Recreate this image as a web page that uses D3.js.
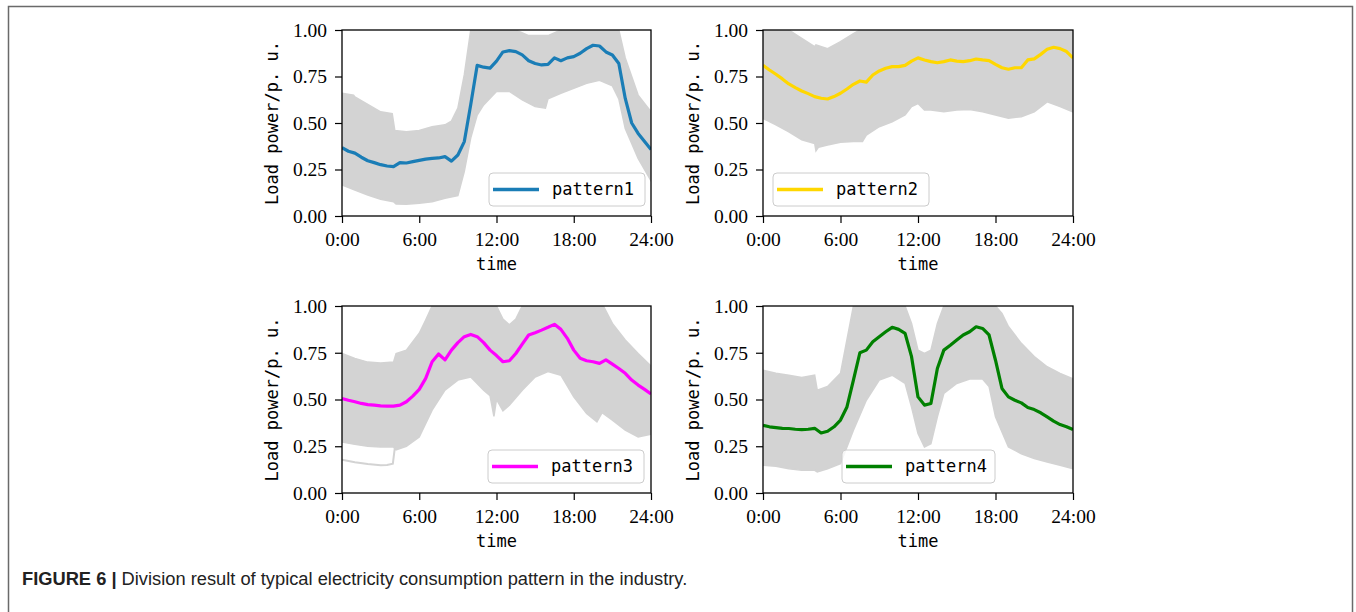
<!DOCTYPE html>
<meta charset="utf-8">
<html>
<script src="https://d3js.org/d3.v7.min.js"></script>
<style>
  body { margin: 0; background: #fff; }
</style>
<body>
<div id="my_dataviz"></div>
<script>

// half-hour steps used by the typical pattern curves
const hours = [0,0.5,1,1.5,2,2.5,3,3.5,4,4.5,5,5.5,6,6.5,7,7.5,8,8.5,9,9.5,10,10.5,11,11.5,12,
               12.5,13,13.5,14,14.5,15,15.5,16,16.5,17,17.5,18,18.5,19,19.5,20,20.5,21,21.5,22,22.5,23,23.5,24];

// typical pattern of each cluster (p.u.)
const pattern1 = [0.367,0.348,0.338,0.316,0.297,0.287,0.276,0.269,0.265,0.287,0.285,0.292,0.299,0.306,0.31,0.312,0.319,0.295,0.328,0.40,
                  0.60,0.81,0.80,0.795,0.833,0.882,0.889,0.884,0.866,0.835,0.82,0.812,0.815,0.85,0.835,0.85,0.857,0.875,0.90,0.918,
                  0.914,0.882,0.866,0.82,0.632,0.50,0.444,0.40,0.357];
const pattern2 = [0.81,0.785,0.762,0.737,0.71,0.69,0.672,0.658,0.642,0.633,0.629,0.642,0.66,0.683,0.708,0.726,0.72,0.758,0.78,0.794,
                  0.803,0.803,0.81,0.833,0.85,0.839,0.83,0.824,0.83,0.839,0.833,0.83,0.835,0.844,0.839,0.835,0.815,0.797,0.789,0.797,
                  0.797,0.839,0.845,0.869,0.896,0.907,0.90,0.884,0.85];
const pattern3 = [0.505,0.496,0.488,0.479,0.473,0.47,0.466,0.465,0.465,0.47,0.488,0.518,0.554,0.613,0.702,0.743,0.712,0.764,0.804,0.836,
                  0.848,0.836,0.804,0.764,0.735,0.702,0.707,0.746,0.796,0.845,0.857,0.871,0.886,0.902,0.875,0.827,0.764,0.72,0.707,0.702,
                  0.693,0.712,0.689,0.666,0.64,0.604,0.577,0.554,0.529];
const pattern4 = [0.362,0.354,0.35,0.346,0.345,0.341,0.339,0.341,0.346,0.321,0.33,0.354,0.39,0.46,0.604,0.75,0.764,0.809,0.836,0.862,
                  0.886,0.875,0.854,0.729,0.514,0.47,0.479,0.666,0.764,0.79,0.818,0.845,0.862,0.889,0.88,0.845,0.71,0.559,0.514,0.496,
                  0.482,0.457,0.446,0.429,0.407,0.384,0.366,0.354,0.339];

// envelope of the grey member curves in each cluster (upper / lower edge)
const p1UpperT = [0,0.9,1,2,3,3.9,4.1,5,6,7,8,8.5,9,9.5,10,13.5,14.5,16,17,21.5,22,23,24];
const p1Upper  = [0.66,0.65,0.64,0.60,0.56,0.55,0.46,0.453,0.46,0.48,0.49,0.51,0.58,0.76,1.0,1.0,0.97,0.97,1.0,1.0,0.85,0.65,0.56];
const p1LowerT = [0,1,2,3,4,4.2,5,6,7,8,9,9.5,10,10.5,11,12,13,14,15,15.8,16,17,18,19,20,21,21.5,22,23,24];
const p1Lower  = [0.167,0.14,0.113,0.09,0.077,0.065,0.063,0.068,0.077,0.095,0.11,0.24,0.42,0.543,0.597,0.67,0.67,0.624,0.588,0.58,
                  0.63,0.66,0.686,0.713,0.73,0.70,0.63,0.47,0.31,0.19];

const p2UpperT = [0,2,3,4,4.1,5,6,7,7.5,24];
const p2Upper  = [1.0,1.0,0.955,0.91,0.92,0.90,0.937,0.98,1.0,1.0];
const p2LowerT = [0,1,2,3,4,4.1,4.3,5,6,7,7.7,8,9,10,11,11.5,12,12.5,13,14,15,16,17,18,19,20,21,22,23,24];
const p2Lower  = [0.525,0.49,0.453,0.41,0.39,0.35,0.37,0.382,0.396,0.40,0.40,0.435,0.48,0.507,0.543,0.588,0.605,0.57,0.57,0.56,
                  0.57,0.573,0.56,0.543,0.525,0.534,0.56,0.614,0.588,0.56];

const p3UpperT = [0,1,2,3,4,4.2,5,6,6.5,7,12,12.5,13,13.5,14,20.3,21,22,23,24];
const p3Upper  = [0.746,0.72,0.70,0.695,0.70,0.746,0.764,0.854,0.925,1.0,1.0,0.93,0.90,0.93,1.0,1.0,0.907,0.818,0.746,0.679];
const p3LowerT = [0,1,2,3,4,4.2,5,6,7,8,9,10,11,11.5,11.8,12,12.5,13,14,15,16,17,18,19,19.8,20.2,21,22,23,24];
const p3Lower  = [0.273,0.26,0.25,0.246,0.246,0.23,0.25,0.30,0.443,0.55,0.604,0.62,0.55,0.52,0.41,0.50,0.44,0.47,0.55,0.62,
                  0.65,0.63,0.514,0.425,0.38,0.43,0.39,0.336,0.30,0.314];
// one low member curve of cluster 3 that sits apart from the bundle at night
const p3OutlierT = [0,1,2,3,3.5,3.95,4.1];
const p3Outlier  = [0.178,0.165,0.155,0.148,0.15,0.157,0.24];

const p4UpperT = [0,1,2,3,4,4.2,5,6,6.5,7,11,11.5,12,12.5,13,13.5,14,18,18.5,19,20,21,22,23,24];
const p4Upper  = [0.657,0.64,0.63,0.618,0.63,0.55,0.57,0.64,0.82,1.0,1.0,0.907,0.764,0.746,0.764,0.907,1.0,1.0,0.96,0.89,0.80,0.73,0.675,0.64,0.61];
const p4LowerT = [0,1,2,3,4,4.2,5,6,7,8,9,10,11,11.5,12,12.5,13,13.5,14,15,16,17,17.5,18,19,20,21,22,23,24];
const p4Lower  = [0.148,0.143,0.13,0.121,0.121,0.113,0.13,0.157,0.336,0.496,0.604,0.63,0.586,0.46,0.318,0.246,0.264,0.407,0.532,0.586,
                  0.61,0.61,0.57,0.407,0.246,0.21,0.184,0.166,0.148,0.13];

// axis ticks
const xTickHours  = [0, 6, 12, 18, 24];
const xTickLabels = ["0:00", "6:00", "12:00", "18:00", "24:00"];
const yTicks = [0, 0.25, 0.5, 0.75, 1.0];

const serif = "'Liberation Serif', 'Times New Roman', serif";
const mono  = "'DejaVu Sans Mono', monospace";

const svg = d3.select("#my_dataviz")
  .append("svg")
    .attr("width", 1356)
    .attr("height", 612);

// thin frame round the whole figure
svg.append("rect")
  .attr("x", 8.5).attr("y", 6.5)
  .attr("width", 1344).attr("height", 700)
  .attr("fill", "none")
  .attr("stroke", "#6a6a6a")
  .attr("stroke-width", 1.5);

// layout of the four subplots; legend offset is from the plot's left / bottom
const panels = [
  {id: 1, name: "pattern1", color: "#1a7db6", values: pattern1, upT: p1UpperT, up: p1Upper, loT: p1LowerT, lo: p1Lower,
   left: 342, top: 30, w: 309, h: 186, legX: 147, legW: 156},
  {id: 2, name: "pattern2", color: "#ffd700", values: pattern2, upT: p2UpperT, up: p2Upper, loT: p2LowerT, lo: p2Lower,
   left: 763, top: 30, w: 310, h: 186, legX: 10, legW: 156},
  {id: 3, name: "pattern3", color: "#ff00ff", values: pattern3, upT: p3UpperT, up: p3Upper, loT: p3LowerT, lo: p3Lower,
   left: 342, top: 306, w: 309, h: 187, legX: 146, legW: 156, extraT: p3OutlierT, extra: p3Outlier},
  {id: 4, name: "pattern4", color: "#008000", values: pattern4, upT: p4UpperT, up: p4Upper, loT: p4LowerT, lo: p4Lower,
   left: 763, top: 306, w: 310, h: 187, legX: 79, legW: 153}
];

panels.forEach(function(p) {
  const x = d3.scaleLinear().domain([0, 24]).range([0, p.w]);
  const y = d3.scaleLinear().domain([0, 1]).range([p.h, 0]);

  const g = svg.append("g").attr("transform", `translate(${p.left},${p.top})`);

  svg.append("clipPath").attr("id", "clip" + p.id)
    .append("rect").attr("width", p.w).attr("height", p.h);

  const plot = g.append("g").attr("clip-path", `url(#clip${p.id})`);

  // grey bundle of member curves: the band between upper and lower edges
  const upPts = p.upT.map((t, i) => [t, p.up[i]]);
  const loPts = p.loT.map((t, i) => [t, p.lo[i]]).reverse();
  const line = d3.line().x(d => x(d[0])).y(d => y(d[1]));
  plot.append("path")
    .attr("d", line(upPts.concat(loPts)) + "Z")
    .attr("fill", "#d3d3d3")
    .attr("stroke", "#d3d3d3")
    .attr("stroke-width", 1.5);

  if (p.extra) {
    plot.append("path")
      .datum(p.extraT.map((t, i) => [t, p.extra[i]]))
      .attr("d", line)
      .attr("fill", "none")
      .attr("stroke", "#d3d3d3")
      .attr("stroke-width", 2);
  }

  // typical pattern
  plot.append("path")
    .datum(hours.map((t, i) => [t, p.values[i]]))
    .attr("d", line)
    .attr("fill", "none")
    .attr("stroke", p.color)
    .attr("stroke-width", 3.2)
    .attr("stroke-linejoin", "round");

  // axes
  const xAxis = g.append("g")
    .attr("transform", `translate(0,${p.h})`)
    .call(d3.axisBottom(x).tickValues(xTickHours).tickFormat((d, i) => xTickLabels[i])
      .tickSize(7).tickPadding(9).tickSizeOuter(0));
  const yAxis = g.append("g")
    .call(d3.axisLeft(y).tickValues(yTicks).tickFormat(d3.format(".2f"))
      .tickSize(7).tickPadding(8).tickSizeOuter(0));

  [xAxis, yAxis].forEach(function(a) {
    a.select(".domain").remove();
    a.selectAll("line").attr("stroke", "#000").attr("stroke-width", 1.2);
    a.selectAll("text")
      .attr("fill", "#000")
      .style("font-family", serif)
      .style("font-size", "19.5px");
  });

  // spines on all four sides
  g.append("rect")
    .attr("width", p.w).attr("height", p.h)
    .attr("fill", "none")
    .attr("stroke", "#000")
    .attr("stroke-width", 1.3);

  // axis titles
  g.append("text")
    .attr("x", p.w / 2).attr("y", p.h + 54)
    .attr("text-anchor", "middle")
    .style("font-family", mono).style("font-size", "17px")
    .text("time");
  g.append("text")
    .attr("transform", `translate(-64,${p.h / 2}) rotate(-90)`)
    .attr("text-anchor", "middle")
    .style("font-family", mono).style("font-size", "17px")
    .text("Load power/p. u.");

  // legend
  const lg = g.append("g").attr("transform", `translate(${p.legX},${p.h - 10 - 33})`);
  lg.append("rect")
    .attr("width", p.legW).attr("height", 33).attr("rx", 4)
    .attr("fill", "white").attr("fill-opacity", 0.8)
    .attr("stroke", "#cccccc").attr("stroke-width", 1);
  lg.append("line")
    .attr("x1", 4).attr("x2", 50).attr("y1", 16.5).attr("y2", 16.5)
    .attr("stroke", p.color).attr("stroke-width", 3.5);
  lg.append("text")
    .attr("x", 63).attr("y", 22)
    .style("font-family", mono).style("font-size", "17px")
    .text(p.name);
});

// caption
const cap = svg.append("text")
  .attr("x", 22).attr("y", 585)
  .style("font-family", "'Liberation Sans', Arial, sans-serif")
  .style("font-size", "18.3px")
  .attr("fill", "#222");
cap.append("tspan").style("font-weight", "bold").text("FIGURE 6 | ");
cap.append("tspan").text("Division result of typical electricity consumption pattern in the industry.");

</script>
</body>
</html>
